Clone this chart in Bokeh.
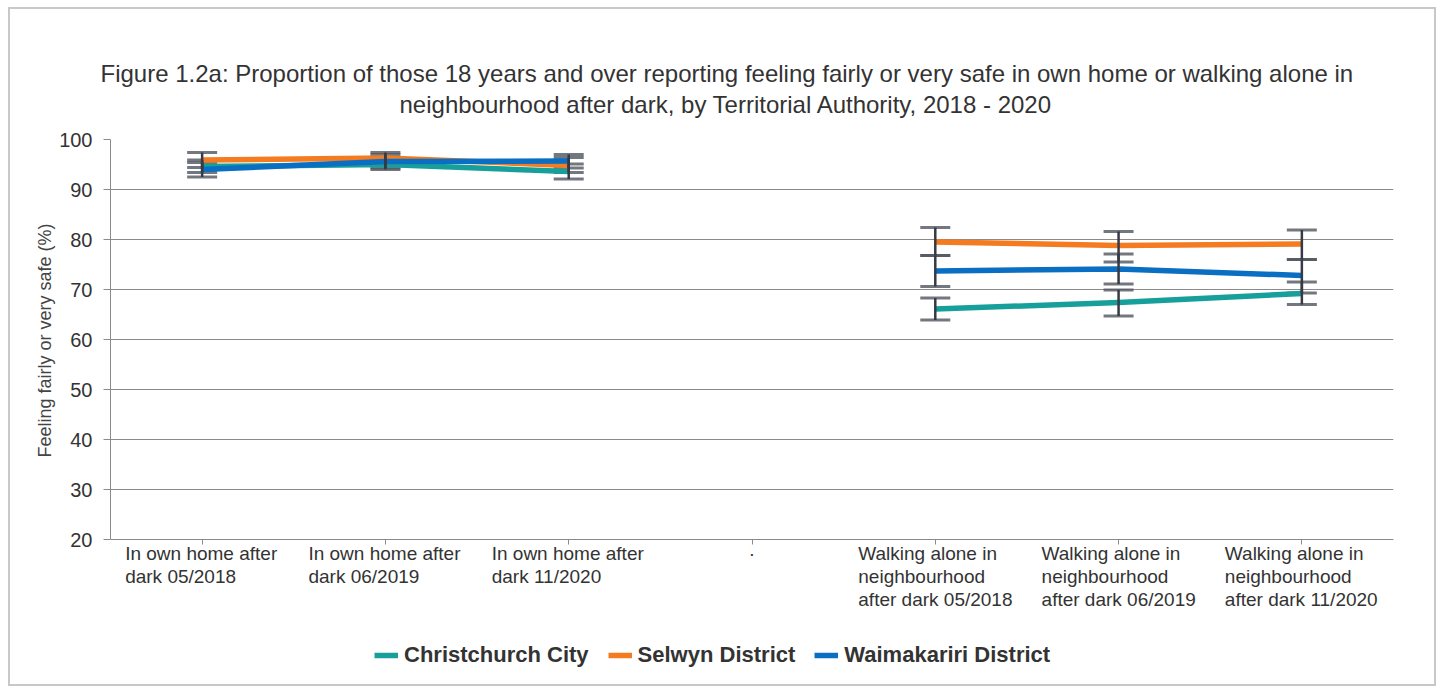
import math
from bokeh.plotting import figure
from bokeh.models import (FactorRange, Range1d, ColumnDataSource, Whisker, TeeHead,
                          Legend, LegendItem, FixedTicker, Title, LabelSet)
from bokeh.core.properties import value
from bokeh.layouts import column
from bokeh.embed import file_html
from bokeh.resources import INLINE

nan = float("nan")

title_lines = [
    "Figure 1.2a: Proportion of those 18 years and over reporting feeling fairly or very safe in own home or walking alone in",
    "neighbourhood after dark, by Territorial Authority, 2018 - 2020",
]
y_label = "Feeling fairly or very safe (%)"

categories = [
    "In own home after\ndark 05/2018",
    "In own home after\ndark 06/2019",
    "In own home after\ndark 11/2020",
    ".",
    "Walking alone in\nneighbourhood\nafter dark 05/2018",
    "Walking alone in\nneighbourhood\nafter dark 06/2019",
    "Walking alone in\nneighbourhood\nafter dark 11/2020",
]

series_names = ["Christchurch City", "Selwyn District", "Waimakariri District"]

christchurch = [94.6, 95.0, 93.6, nan, 66.1, 67.4, 69.2]
christchurch_lo = [93.4, 94.0, 92.1, nan, 63.9, 64.7, 67.0]
christchurch_hi = [95.9, 96.0, 95.1, nan, 68.3, 69.9, 71.5]

selwyn = [95.9, 96.3, 94.8, nan, 79.5, 78.8, 79.1]
selwyn_lo = [94.4, 95.1, 93.4, nan, 76.8, 75.5, 76.0]
selwyn_hi = [97.4, 97.4, 96.4, nan, 82.4, 81.6, 81.9]

waimakariri = [94.0, 95.6, 95.7, nan, 73.7, 74.1, 72.8]
waimakariri_lo = [92.5, 94.3, 94.3, nan, 70.6, 71.1, 69.3]
waimakariri_hi = [95.4, 97.0, 97.0, nan, 76.8, 77.1, 76.0]

y_ticks = [20, 30, 40, 50, 60, 70, 80, 90, 100]
y_min, y_max = 20, 100

colors = ["#17a09b", "#f47b20", "#0a6fc2"]
FONT = "Liberation Sans"

# 5 px per percentage point; the frame extends below the 20 line to hold labels/legend
FRAME_H = 537
PX_PER_UNIT = 5.0
y_start = y_max - FRAME_H / PX_PER_UNIT

p = figure(x_range=FactorRange(factors=categories, range_padding=0),
           y_range=Range1d(y_start, y_max),
           frame_width=1283, frame_height=FRAME_H,
           output_backend="svg", toolbar_location=None,
           min_border_left=100, min_border_right=41, min_border_top=130,
           min_border_bottom=8)
p.outline_line_color = None
p.background_fill_color = "white"
p.border_fill_color = "white"

# title: two centred lines (line nearest the plot is added first)
t2 = Title(text=title_lines[1], align="left", offset=289, standoff=44,
           text_font=FONT, text_font_size="24px", text_font_style="normal",
           text_color="#333333")
t1 = Title(text=title_lines[0], align="left", offset=-10, standoff=-40,
           text_font=FONT, text_font_size="24px", text_font_style="normal",
           text_color="#333333")
p.add_layout(t2, "above")
p.add_layout(t1, "above")

p.ygrid.ticker = FixedTicker(ticks=y_ticks)
p.ygrid.grid_line_color = "#8a8a8a"
p.ygrid.grid_line_width = 1
p.xgrid.grid_line_color = None

p.yaxis.ticker = FixedTicker(ticks=y_ticks)
p.yaxis.bounds = (y_min, y_max)
p.yaxis.axis_line_color = "#8a8a8a"
p.yaxis.major_tick_line_color = "#8a8a8a"
p.yaxis.major_tick_out = 7
p.yaxis.major_tick_in = 0
p.yaxis.minor_tick_line_color = None
p.yaxis.major_label_text_font = FONT
p.yaxis.major_label_text_font_size = "20px"
p.yaxis.major_label_text_color = "#333333"
p.yaxis.major_label_standoff = 11

# y-axis title, placed alongside the 20-100 part of the axis
ytitle = Title(text=y_label, align="left", offset=219, standoff=4,
               text_font=FONT, text_font_size="18px", text_font_style="normal",
               text_color="#444444")
p.add_layout(ytitle, "left")

p.xaxis.fixed_location = y_min
p.xaxis.axis_line_color = "#8a8a8a"
p.xaxis.major_tick_line_color = "#8a8a8a"
p.xaxis.major_tick_out = 5
p.xaxis.major_tick_in = 0
p.xaxis.major_label_text_color = None
p.xaxis.major_label_text_font_size = "0px"
p.xaxis.major_label_standoff = 0

# category labels: lines left-aligned, block centred under each tick
main_cats = [c for c in categories if c != "."]
gap_cats = [c for c in categories if c == "."]
lab_src = ColumnDataSource(dict(x=main_cats, y=[y_min] * len(main_cats), text=main_cats))
gap_src = ColumnDataSource(dict(x=gap_cats, y=[y_min] * len(gap_cats), text=gap_cats))
p.add_layout(LabelSet(source=lab_src, x="x", y="y", text="text", text_align="left",
                      text_baseline="top", x_offset=-77, y_offset=-3, text_font=value(FONT),
                      text_font_size=value("19px"), text_line_height=1.1,
                      text_color="#333333"))
p.add_layout(LabelSet(source=gap_src, x="x", y="y", text="text", text_align="center",
                      text_baseline="top", y_offset=-3, text_font=value(FONT),
                      text_font_size=value("19px"), text_color="#333333"))

values = [christchurch, selwyn, waimakariri]
lows = [christchurch_lo, selwyn_lo, waimakariri_lo]
highs = [christchurch_hi, selwyn_hi, waimakariri_hi]

# error bar caps (under lines)
for v, lo, hi in zip(values, lows, highs):
    idx = [i for i in range(len(categories)) if not math.isnan(v[i])]
    src = ColumnDataSource(dict(base=[categories[i] for i in idx],
                                lower=[lo[i] for i in idx],
                                upper=[hi[i] for i in idx]))
    w = Whisker(source=src, base="base", lower="lower", upper="upper",
                line_color=None,
                upper_head=TeeHead(size=30, line_color="#50555f", line_width=3, line_alpha=0.8),
                lower_head=TeeHead(size=30, line_color="#50555f", line_width=3, line_alpha=0.8),
                level="underlay")
    p.add_layout(w)

items = []
for name, v, c in zip(series_names, values, colors):
    r = p.line(x=categories, y=v, line_color=c, line_width=5.5, line_join="round")
    items.append(LegendItem(label=name, renderers=[r]))

# error bar stems (over lines)
for v, lo, hi in zip(values, lows, highs):
    idx = [i for i in range(len(categories)) if not math.isnan(v[i])]
    p.segment(x0=[categories[i] for i in idx], y0=[lo[i] for i in idx],
              x1=[categories[i] for i in idx], y1=[hi[i] for i in idx],
              line_color="#353a45", line_width=2.5)

legend = Legend(items=items, orientation="horizontal", location=(264, 8),
                label_text_font=FONT, label_text_font_size="22px",
                label_text_font_style="bold", label_text_color="#333333",
                glyph_width=24, glyph_height=20, label_standoff=6, spacing=19,
                padding=4, margin=0, border_line_color=None, background_fill_alpha=0)
p.add_layout(legend, "center")

layout = column(p, styles={"border": "2px solid #c8c8c8", "margin-left": "8px",
                           "margin-top": "7px"})
open("out.html", "w").write(file_html(layout, INLINE))
